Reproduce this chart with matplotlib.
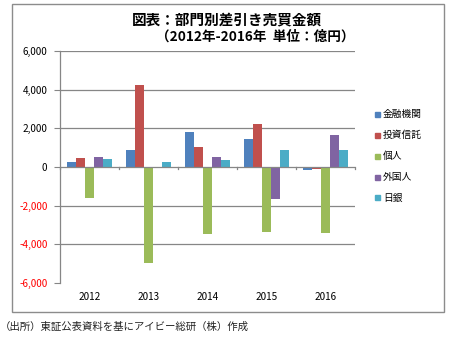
import matplotlib
matplotlib.use("Agg")
import matplotlib.pyplot as plt
from matplotlib.patches import Rectangle
from matplotlib.ticker import FuncFormatter
import numpy as np

plt.rcParams['font.family'] = ['Noto Sans CJK JP', 'DejaVu Sans']

years = ["2012", "2013", "2014", "2015", "2016"]
series_names = ["金融機関", "投資信託", "個人", "外国人", "日銀"]
kinyu = [280, 870, 1830, 1450, -170]
toushin = [470, 4220, 1050, 2230, -120]
kojin = [-1620, -4950, -3450, -3350, -3420]
gaikoku = [500, 0, 500, -1670, 1640]
nichigin = [420, 280, 370, 900, 860]
colors = ["#4F81BD", "#C0504D", "#9BBB59", "#8064A2", "#4BACC6"]
yticks = [-6000, -4000, -2000, 0, 2000, 4000, 6000]

title1 = "図表：部門別差引き売買金額"
title2 = "（2012年-2016年  単位：億円）"
footer = "（出所）東証公表資料を基にアイビー総研（株）作成"

data = [kinyu, toushin, kojin, gaikoku, nichigin]

fig = plt.figure(figsize=(4.5, 3.37), dpi=100)
fig.patches.append(Rectangle((11.5/450, 1 - 312/337), (443.5 - 11.5)/450, (312 - 3.5)/337,
                             transform=fig.transFigure, fill=False,
                             edgecolor="#8c8c8c", linewidth=1.0))

ax = fig.add_axes([60/450, 1 - 283/337, 295/450, 232/337])
x = np.arange(len(years))
w = 1 / 6.5
for i, (vals, c, name) in enumerate(zip(data, colors, series_names)):
    ax.bar(x + (i - 2) * w, vals, width=w, color=c, label=name, zorder=3)

ax.set_xlim(-0.5, len(years) - 0.5)
ax.set_ylim(-6000, 6000)
ax.set_yticks(yticks)
ax.yaxis.set_major_formatter(FuncFormatter(lambda v, p: f"{int(v):,}"))
for v in yticks:
    if v > -6000 and v != 0:
        ax.axhline(v, color="#868686", linewidth=0.9, zorder=1)
ax.axhline(0, color="#868686", linewidth=0.9, zorder=4)
for b in np.arange(-0.5, len(years), 1.0):
    ax.plot([b, b], [0, -120], color="#868686", linewidth=0.9, zorder=4, clip_on=False)

for s in ["top", "right", "bottom"]:
    ax.spines[s].set_visible(False)
ax.spines["left"].set_color("#868686")
ax.spines["left"].set_linewidth(0.9)
ax.tick_params(axis="y", length=4, color="#868686", labelsize=7.2, pad=5)
ax.set_xticks([])
for xi, yr in zip(x, years):
    fig.text((60 + 295 * (xi + 0.5) / 5) / 450, 1 - 297/337, yr, ha="center", va="center", fontsize=7.2)
for lbl, v in zip(ax.get_yticklabels(), yticks):
    lbl.set_color("#FF0000" if v < 0 else "black")

leg_y = [114, 135, 156, 177, 198]
for name, c, yy in zip(series_names, colors, leg_y):
    fig.patches.append(Rectangle((375/450, 1 - (yy + 2.5)/337), 5/450, 5/337,
                                 transform=fig.transFigure, color=c))
    fig.text(383/450, 1 - yy/337, name, ha="left", va="center", fontsize=7)

fig.text(227/450, 1 - 19/337, title1, ha="center", va="center", fontsize=10.5, fontweight="bold")
fig.text(255/450, 1 - 37/337, title2, ha="center", va="center", fontsize=9.8, fontweight="bold")
fig.text(0/450, 1 - 327/337, footer, ha="left", va="center", fontsize=7.5, color="#222222")

fig.savefig("out.png", dpi=100)
